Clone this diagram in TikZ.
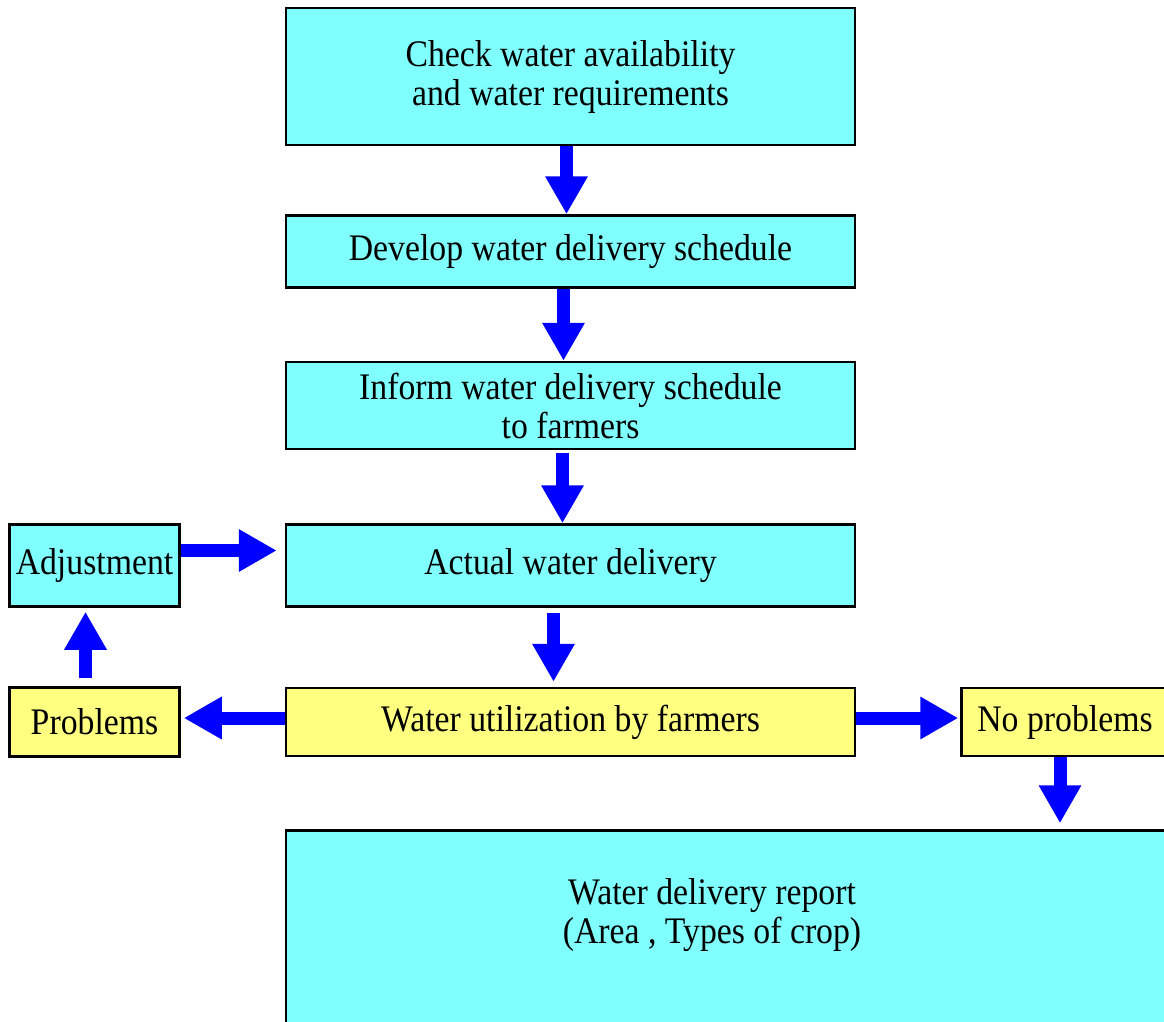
\documentclass[tikz,border=0pt]{standalone}
\usepackage{fontspec}
\setmainfont{Liberation Serif}
\newfontfamily\stagefont[FakeStretch=0.9]{Liberation Serif}
\usepackage{xcolor}
\usepackage{tikz}
\usetikzlibrary{arrows.meta,positioning}
\definecolor{boxcyan}{HTML}{80FFFF}
\definecolor{boxyellow}{HTML}{FFFF80}
\definecolor{flowblue}{HTML}{0000FF}
\tikzset{
    stagebox/.style={rectangle, draw=black, line width=2.5pt, minimum width=569pt, inner sep=0pt, align=center, font=\stagefont\fontsize{37.5}{39}\selectfont},
    cyanbox/.style={stagebox, fill=boxcyan},
    yellowbox/.style={stagebox, fill=boxyellow},
    sidebox/.style={minimum width=170pt},
    flow/.style={draw=flowblue, line width=13pt, -{Triangle[length=38pt, width=40pt]}},
    boxtext/.style={align=center, inner sep=0pt, font=\stagefont\fontsize{37.5}{39}\selectfont},
}

\begin{document}
\begin{tikzpicture}[x=1pt, y=-1pt]
    \useasboundingbox (0,0) rectangle (1164,1021);
    \clip (0,0) rectangle (1164,1021);

    % main column
    \node[cyanbox, minimum height=137pt] (check) at (570.5,76.5) {Check water availability\\and water requirements};
    \node[cyanbox, minimum height=72pt, below=68pt of check] (dev) {Develop water delivery schedule};
    \node[cyanbox, minimum height=87pt, below=72pt of dev] (inform) {Inform water delivery schedule\\to farmers};
    \node[cyanbox, minimum height=82pt, below=73pt of inform] (actual) {Actual water delivery};
    \node[yellowbox, minimum height=68pt, below=79pt of actual] (util) {Water utilization by farmers};

    % feedback loop and outcome
    \node[cyanbox, sidebox, minimum height=82pt, left=104pt of actual] (adjust) {Adjustment};
    \node[yellowbox, sidebox, minimum height=69pt, left=104pt of util] (problems) {Problems};
    \node[yellowbox, minimum width=207pt, minimum height=68pt, right=104pt of util] (noprob) {No problems};

    % report runs off the page
    \node[cyanbox, minimum width=900pt, minimum height=215pt, anchor=north west] (report) at ([yshift=-72pt]util.south west) {};
    \node[boxtext] (reporttext) at (712,915) {Water delivery report\\(Area , Types of crop)};

    \draw[flow] ([xshift=-4pt]check.south) -- ([xshift=-4pt]dev.north);
    \draw[flow] ([xshift=-7pt]dev.south) -- ([xshift=-7pt]inform.north);
    \draw[flow, shorten <=3pt] ([xshift=-8pt]inform.south) -- ([xshift=-8pt]actual.north);
    \draw[flow, shorten <=5pt, shorten >=5pt] ([xshift=-17pt]actual.south) -- ([xshift=-17pt]util.north);
    \draw[flow, shorten >=8pt] ([yshift=15pt]adjust.east) -- ([yshift=15pt]actual.west);
    \draw[flow, shorten >=3pt] ([yshift=4pt]util.west) -- ([yshift=4pt]problems.east);
    \draw[flow, shorten >=2pt] ([yshift=4pt]util.east) -- ([yshift=4pt]noprob.west);
    \draw[flow, shorten <=8pt, shorten >=4pt] ([xshift=-9pt]problems.north) -- ([xshift=-9pt]adjust.south);
    \draw[flow, shorten >=6pt] ([xshift=-5pt]noprob.south) -- ([xshift=-5pt]noprob.south |- report.north);
\end{tikzpicture}
\end{document}
